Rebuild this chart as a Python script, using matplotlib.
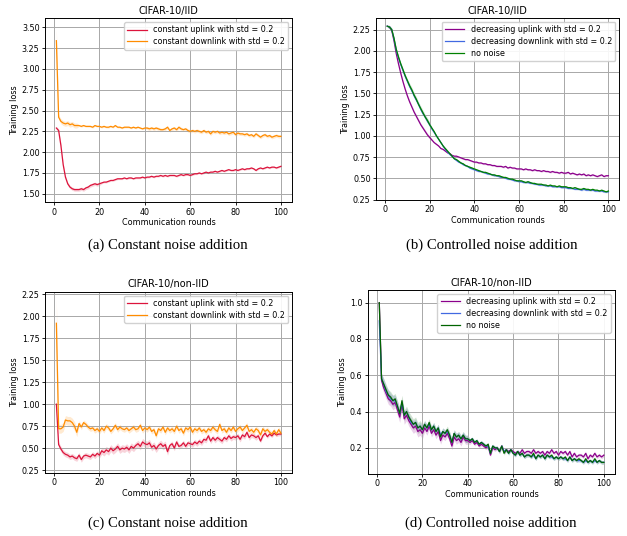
import numpy as np
import matplotlib
matplotlib.use("Agg")
import matplotlib.pyplot as plt

rounds = np.arange(1, 101)

# (a) CIFAR-10/IID, constant noise
iid_const_up = [
    2.29, 2.26, 2.08, 1.85, 1.70, 1.62, 1.58, 1.56, 1.55, 1.55,
    1.55, 1.56, 1.55, 1.57, 1.58, 1.60, 1.61, 1.62, 1.61, 1.62,
    1.63, 1.64, 1.64, 1.65, 1.66, 1.66, 1.67, 1.68, 1.68, 1.68,
    1.69, 1.68, 1.69, 1.69, 1.68, 1.69, 1.69, 1.69, 1.70, 1.69,
    1.70, 1.70, 1.71, 1.70, 1.71, 1.71, 1.72, 1.71, 1.72, 1.71,
    1.72, 1.72, 1.72, 1.71, 1.72, 1.73, 1.72, 1.73, 1.73, 1.72,
    1.73, 1.74, 1.74, 1.75, 1.74, 1.75, 1.76, 1.75, 1.76, 1.76,
    1.77, 1.76, 1.77, 1.78, 1.77, 1.78, 1.79, 1.78, 1.78, 1.79,
    1.78, 1.79, 1.80, 1.79, 1.80, 1.80, 1.81, 1.80, 1.78, 1.80,
    1.81, 1.80, 1.81, 1.82, 1.81, 1.82, 1.82, 1.81, 1.82, 1.83]
iid_const_down = [
    3.34, 2.42, 2.37, 2.35, 2.34, 2.35, 2.33, 2.34, 2.32, 2.32,
    2.32, 2.31, 2.32, 2.31, 2.31, 2.31, 2.30, 2.32, 2.31, 2.31,
    2.30, 2.31, 2.30, 2.30, 2.31, 2.30, 2.32, 2.30, 2.30, 2.29,
    2.30, 2.30, 2.30, 2.29, 2.30, 2.29, 2.30, 2.29, 2.28, 2.29,
    2.29, 2.28, 2.29, 2.28, 2.29, 2.28, 2.27, 2.27, 2.28, 2.30,
    2.26, 2.28, 2.29, 2.27, 2.30, 2.28, 2.27, 2.28, 2.26, 2.25,
    2.26, 2.25, 2.26, 2.25, 2.24, 2.26, 2.24, 2.25, 2.22, 2.25,
    2.24, 2.25, 2.23, 2.24, 2.23, 2.24, 2.22, 2.23, 2.24, 2.21,
    2.23, 2.22, 2.22, 2.21, 2.22, 2.20, 2.21, 2.19, 2.22, 2.20,
    2.18, 2.20, 2.21, 2.19, 2.20, 2.18, 2.19, 2.20, 2.19, 2.19]

# (b) CIFAR-10/IID, controlled noise
iid_dec_up = [
    2.29, 2.28, 2.24, 2.12, 1.97, 1.85, 1.74, 1.64, 1.55, 1.47,
    1.40, 1.34, 1.28, 1.23, 1.18, 1.13, 1.09, 1.05, 1.01, 0.98,
    0.95, 0.92, 0.90, 0.88, 0.85, 0.84, 0.82, 0.80, 0.79, 0.77,
    0.76, 0.76, 0.75, 0.74, 0.73, 0.72, 0.72, 0.71, 0.70, 0.69,
    0.69, 0.68, 0.68, 0.67, 0.67, 0.66, 0.66, 0.65, 0.65, 0.64,
    0.64, 0.64, 0.63, 0.64, 0.62, 0.63, 0.62, 0.62, 0.61, 0.61,
    0.61, 0.60, 0.61, 0.60, 0.60, 0.59, 0.60, 0.59, 0.59, 0.58,
    0.59, 0.58, 0.58, 0.57, 0.58, 0.57, 0.57, 0.56, 0.57, 0.56,
    0.56, 0.57, 0.55, 0.56, 0.55, 0.54, 0.55, 0.54, 0.55, 0.53,
    0.54, 0.53, 0.54, 0.53, 0.52, 0.53, 0.54, 0.52, 0.53, 0.53]
iid_dec_down = [
    2.29, 2.28, 2.25, 2.14, 2.01, 1.92, 1.84, 1.77, 1.70, 1.64,
    1.58, 1.53, 1.47, 1.42, 1.37, 1.31, 1.26, 1.22, 1.17, 1.13,
    1.08, 1.04, 1.00, 0.96, 0.92, 0.88, 0.84, 0.81, 0.78, 0.76,
    0.73, 0.71, 0.69, 0.68, 0.66, 0.65, 0.64, 0.62, 0.61, 0.60,
    0.59, 0.58, 0.58, 0.57, 0.56, 0.55, 0.55, 0.54, 0.53, 0.53,
    0.52, 0.51, 0.51, 0.50, 0.49, 0.49, 0.48, 0.47, 0.47, 0.46,
    0.46, 0.45, 0.45, 0.45, 0.44, 0.44, 0.43, 0.43, 0.42, 0.42,
    0.42, 0.41, 0.41, 0.41, 0.40, 0.40, 0.40, 0.40, 0.39, 0.39,
    0.39, 0.38, 0.38, 0.38, 0.37, 0.37, 0.37, 0.36, 0.37, 0.36,
    0.36, 0.36, 0.36, 0.35, 0.35, 0.35, 0.35, 0.34, 0.34, 0.34]
iid_no_noise = [
    2.29, 2.28, 2.25, 2.15, 2.02, 1.93, 1.85, 1.78, 1.71, 1.65,
    1.59, 1.54, 1.48, 1.43, 1.37, 1.32, 1.27, 1.22, 1.18, 1.13,
    1.09, 1.05, 1.00, 0.96, 0.92, 0.88, 0.85, 0.82, 0.79, 0.76,
    0.73, 0.72, 0.70, 0.68, 0.67, 0.65, 0.64, 0.63, 0.62, 0.61,
    0.60, 0.59, 0.58, 0.57, 0.57, 0.56, 0.55, 0.54, 0.54, 0.53,
    0.53, 0.52, 0.51, 0.51, 0.50, 0.49, 0.49, 0.48, 0.47, 0.47,
    0.47, 0.46, 0.45, 0.46, 0.45, 0.44, 0.44, 0.43, 0.43, 0.43,
    0.42, 0.42, 0.41, 0.42, 0.41, 0.41, 0.40, 0.41, 0.40, 0.40,
    0.40, 0.39, 0.39, 0.38, 0.39, 0.38, 0.37, 0.37, 0.38, 0.37,
    0.37, 0.36, 0.37, 0.36, 0.36, 0.35, 0.36, 0.35, 0.34, 0.35]

# (c) CIFAR-10/non-IID, constant noise
noniid_const_up = [
    1.00, 0.54, 0.49, 0.45, 0.43, 0.42, 0.40, 0.41, 0.39, 0.38,
    0.42, 0.37, 0.41, 0.42, 0.41, 0.40, 0.43, 0.41, 0.44, 0.42,
    0.47, 0.45, 0.48, 0.46, 0.50, 0.47, 0.49, 0.52, 0.48, 0.50,
    0.49, 0.51, 0.48, 0.52, 0.50, 0.53, 0.55, 0.52, 0.57, 0.55,
    0.54, 0.56, 0.51, 0.53, 0.49, 0.53, 0.55, 0.52, 0.54, 0.46,
    0.53, 0.55, 0.50, 0.57, 0.52, 0.53, 0.56, 0.52, 0.56, 0.55,
    0.54, 0.57, 0.55, 0.58, 0.56, 0.60, 0.59, 0.64, 0.58, 0.62,
    0.59, 0.62, 0.60, 0.58, 0.62, 0.60, 0.64, 0.61, 0.63, 0.62,
    0.64, 0.60, 0.65, 0.63, 0.68, 0.62, 0.65, 0.64, 0.62, 0.64,
    0.58, 0.64, 0.67, 0.63, 0.66, 0.64, 0.67, 0.65, 0.66, 0.66]
noniid_const_down = [
    1.92, 0.72, 0.72, 0.74, 0.82, 0.81, 0.81, 0.79, 0.75, 0.68,
    0.78, 0.74, 0.79, 0.77, 0.74, 0.72, 0.73, 0.70, 0.72, 0.69,
    0.73, 0.70, 0.75, 0.73, 0.69, 0.72, 0.76, 0.71, 0.74, 0.72,
    0.71, 0.73, 0.70, 0.72, 0.74, 0.71, 0.72, 0.76, 0.70, 0.73,
    0.71, 0.74, 0.69, 0.71, 0.64, 0.72, 0.70, 0.74, 0.68, 0.73,
    0.70, 0.72, 0.69, 0.75, 0.70, 0.72, 0.67, 0.73, 0.71, 0.74,
    0.68, 0.72, 0.70, 0.73, 0.69, 0.71, 0.68, 0.72, 0.70, 0.74,
    0.71, 0.69, 0.77, 0.70, 0.72, 0.68, 0.73, 0.70, 0.74, 0.69,
    0.72, 0.74, 0.70, 0.73, 0.76, 0.69, 0.71, 0.68, 0.72, 0.70,
    0.65, 0.72, 0.69, 0.71, 0.68, 0.66, 0.70, 0.66, 0.71, 0.67]

# (d) CIFAR-10/non-IID, controlled noise
noniid_dec_up = [
    1.00, 0.57, 0.53, 0.50, 0.47, 0.46, 0.44, 0.45, 0.41, 0.37,
    0.44, 0.36, 0.38, 0.35, 0.33, 0.31, 0.32, 0.29, 0.30, 0.28,
    0.31, 0.29, 0.32, 0.28, 0.30, 0.27, 0.29, 0.24, 0.27, 0.26,
    0.28, 0.25, 0.21, 0.26, 0.24, 0.25, 0.23, 0.26, 0.24, 0.24,
    0.23, 0.24, 0.22, 0.23, 0.21, 0.22, 0.21, 0.20, 0.21, 0.16,
    0.20, 0.19, 0.20, 0.18, 0.21, 0.18, 0.19, 0.18, 0.19, 0.18,
    0.17, 0.18, 0.17, 0.19, 0.17, 0.18, 0.18, 0.17, 0.19, 0.17,
    0.18, 0.17, 0.18, 0.16, 0.18, 0.17, 0.19, 0.17, 0.18, 0.16,
    0.18, 0.17, 0.18, 0.16, 0.18, 0.15, 0.17, 0.15, 0.16, 0.16,
    0.15, 0.17, 0.14, 0.16, 0.15, 0.17, 0.15, 0.16, 0.15, 0.16]
noniid_dec_down = [
    0.90, 0.58, 0.55, 0.51, 0.49, 0.47, 0.46, 0.46, 0.43, 0.39,
    0.45, 0.38, 0.40, 0.37, 0.34, 0.33, 0.34, 0.31, 0.32, 0.30,
    0.33, 0.31, 0.33, 0.30, 0.32, 0.29, 0.31, 0.27, 0.29, 0.28,
    0.29, 0.27, 0.23, 0.28, 0.26, 0.27, 0.25, 0.27, 0.25, 0.25,
    0.24, 0.25, 0.23, 0.24, 0.22, 0.23, 0.22, 0.21, 0.21, 0.17,
    0.21, 0.20, 0.20, 0.18, 0.21, 0.18, 0.19, 0.17, 0.19, 0.17,
    0.16, 0.18, 0.16, 0.17, 0.15, 0.16, 0.16, 0.15, 0.16, 0.14,
    0.16, 0.15, 0.16, 0.14, 0.16, 0.15, 0.15, 0.14, 0.15, 0.14,
    0.15, 0.14, 0.14, 0.13, 0.15, 0.13, 0.14, 0.13, 0.13, 0.13,
    0.12, 0.13, 0.12, 0.13, 0.12, 0.13, 0.12, 0.13, 0.12, 0.12]
noniid_no_noise = [
    1.00, 0.58, 0.55, 0.52, 0.49, 0.48, 0.46, 0.47, 0.43, 0.39,
    0.46, 0.38, 0.40, 0.37, 0.35, 0.33, 0.34, 0.31, 0.32, 0.30,
    0.33, 0.31, 0.34, 0.30, 0.32, 0.29, 0.31, 0.26, 0.29, 0.28,
    0.30, 0.27, 0.23, 0.28, 0.26, 0.27, 0.25, 0.27, 0.25, 0.25,
    0.24, 0.25, 0.23, 0.24, 0.22, 0.23, 0.22, 0.21, 0.22, 0.17,
    0.21, 0.20, 0.20, 0.18, 0.21, 0.17, 0.19, 0.17, 0.19, 0.17,
    0.16, 0.18, 0.16, 0.17, 0.15, 0.16, 0.16, 0.15, 0.17, 0.14,
    0.16, 0.15, 0.16, 0.14, 0.16, 0.15, 0.16, 0.14, 0.15, 0.14,
    0.15, 0.14, 0.15, 0.13, 0.15, 0.13, 0.14, 0.13, 0.14, 0.13,
    0.12, 0.14, 0.12, 0.13, 0.12, 0.14, 0.12, 0.13, 0.12, 0.12]

# spread of the shaded band: first round, then one value per block of 10 rounds
iid_const_up_std = (0.02, [0.02, 0.02, 0.01, 0.01, 0.01, 0.01, 0.01, 0.01, 0.01, 0.01])
iid_const_down_std = (0.15, [0.03, 0.01, 0.01, 0.01, 0.02, 0.02, 0.02, 0.02, 0.02, 0.02])
iid_dec_up_std = (0.01, [0.02, 0.02, 0.01, 0.01, 0.01, 0.01, 0.01, 0.01, 0.01, 0.01])
iid_dec_down_std = (0.01, [0.02, 0.02, 0.01, 0.01, 0.01, 0.01, 0.01, 0.01, 0.01, 0.01])
iid_no_noise_std = (0.01, [0.02, 0.03, 0.01, 0.01, 0.01, 0.01, 0.01, 0.01, 0.01, 0.01])
noniid_const_up_std = (0.05, [0.03, 0.03, 0.04, 0.04, 0.04, 0.03, 0.03, 0.03, 0.03, 0.02])
noniid_const_down_std = (0.28, [0.05, 0.03, 0.03, 0.03, 0.03, 0.03, 0.03, 0.03, 0.03, 0.03])
noniid_dec_up_std = (0.02, [0.03, 0.03, 0.02, 0.02, 0.01, 0.01, 0.01, 0.01, 0.01, 0.01])
noniid_dec_down_std = (0.02, [0.03, 0.02, 0.02, 0.02, 0.01, 0.01, 0.01, 0.01, 0.01, 0.01])
noniid_no_noise_std = (0.02, [0.03, 0.03, 0.02, 0.02, 0.01, 0.01, 0.01, 0.01, 0.01, 0.01])

c_up = "crimson"
c_down = "darkorange"
c_dec_up = "darkmagenta"
c_dec_down = "royalblue"
c_none = "green"


def band(std):
    first, blocks = std
    s = np.repeat(blocks, 10).astype(float)
    s[0] = first
    return s


def draw(ax, series, title, ylim, yticks):
    for values, std, color, label in series:
        y = np.array(values)
        s = band(std)
        ax.fill_between(rounds, y - s, y + s, color=color, alpha=0.18, linewidth=0)
        ax.plot(rounds, y, color=color, linewidth=0.9, label=label)
    ax.set_title(title, fontsize=7, pad=3)
    ax.set_xlabel("Communication rounds", fontsize=5.8, labelpad=1)
    ax.set_ylabel("Training loss", fontsize=5.8, labelpad=2)
    ax.set_ylim(*ylim)
    ax.set_yticks(yticks)
    ax.set_xticks([0, 20, 40, 60, 80, 100])
    ax.tick_params(labelsize=5.8, length=2.5, width=0.6, pad=1.5)
    ax.grid(True, color="#a8a8a8", linewidth=0.7)
    for sp in ax.spines.values():
        sp.set_linewidth(0.7)
    ax.legend(loc="upper right", fontsize=5.8, handlelength=2.4, borderpad=0.4,
              labelspacing=0.35, framealpha=0.9)


fig = plt.figure(figsize=(6.27, 5.36), dpi=100)

ax_a = fig.add_axes([0.072, 0.623, 0.394, 0.343])
ax_b = fig.add_axes([0.600, 0.627, 0.388, 0.340])
ax_c = fig.add_axes([0.072, 0.118, 0.394, 0.338])
ax_d = fig.add_axes([0.587, 0.116, 0.394, 0.343])

draw(ax_a, [(iid_const_up, iid_const_up_std, c_up, "constant uplink with std = 0.2"),
            (iid_const_down, iid_const_down_std, c_down, "constant downlink with std = 0.2")],
     "CIFAR-10/IID", (1.40, 3.61), np.arange(1.5, 3.51, 0.25))
draw(ax_b, [(iid_dec_up, iid_dec_up_std, c_dec_up, "decreasing uplink with std = 0.2"),
            (iid_dec_down, iid_dec_down_std, c_dec_down, "decreasing downlink with std = 0.2"),
            (iid_no_noise, iid_no_noise_std, c_none, "no noise")],
     "CIFAR-10/IID", (0.245, 2.39), np.arange(0.25, 2.26, 0.25))
draw(ax_c, [(noniid_const_up, noniid_const_up_std, c_up, "constant uplink with std = 0.2"),
            (noniid_const_down, noniid_const_down_std, c_down, "constant downlink with std = 0.2")],
     "CIFAR-10/non-IID", (0.22, 2.28), np.arange(0.25, 2.26, 0.25))
draw(ax_d, [(noniid_dec_up, noniid_dec_up_std, c_dec_up, "decreasing uplink with std = 0.2"),
            (noniid_dec_down, noniid_dec_down_std, c_dec_down, "decreasing downlink with std = 0.2"),
            (noniid_no_noise, noniid_no_noise_std, "darkgreen", "no noise")],
     "CIFAR-10/non-IID", (0.057, 1.07), [0.2, 0.4, 0.6, 0.8, 1.0])

captions = [(0.268, 0.543, "(a) Constant noise addition"),
            (0.785, 0.543, "(b) Controlled noise addition"),
            (0.268, 0.024, "(c) Constant noise addition"),
            (0.782, 0.024, "(d) Controlled noise addition")]
for x, y, text in captions:
    fig.text(x, y, text, ha="center", va="center", fontsize=10.6, family="Liberation Serif")

fig.savefig("out.png", dpi=100)
